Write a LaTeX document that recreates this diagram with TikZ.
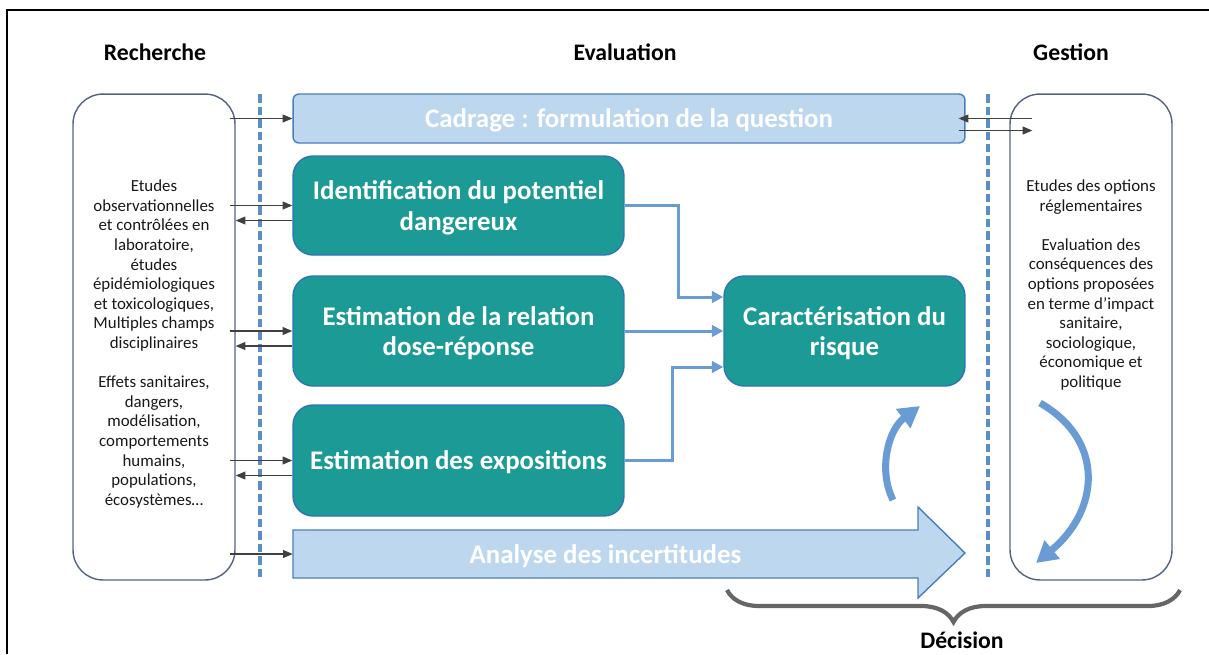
\documentclass[tikz,border=0pt]{standalone}
\usepackage{fontspec}
\setmainfont{Carlito}
\usetikzlibrary{arrows.meta,decorations.pathreplacing}

\definecolor{tealbox}{RGB}{28,154,150}
\definecolor{tealedge}{RGB}{46,117,182}
\definecolor{paleblue}{RGB}{189,215,238}
\definecolor{paleedge}{RGB}{74,126,187}
\definecolor{flowblue}{RGB}{105,155,212}
\definecolor{sepblue}{RGB}{91,142,201}
\definecolor{sideedge}{RGB}{84,98,130}

\tikzset{
    header/.style={font=\fontsize{13.5}{16}\selectfont\bfseries},
    sidebox/.style={draw=sideedge, line width=0.8pt, rounded corners=0.6cm, minimum width=3.24cm, minimum height=9.72cm},
    sidetext/.style={align=center, text=black!90, font=\fontsize{9.6}{11.15}\selectfont},
    sepline/.style={draw=sepblue, line width=2.2pt, dash pattern=on 0.17cm off 0.08cm},
    boxtext/.style={text=white, align=center, text depth=0pt, font=\fontsize{15.3}{17.5}\selectfont\bfseries},
    lightfill/.style={draw=paleedge, line width=0.8pt, fill=paleblue},
    cadrage/.style={lightfill, boxtext, rounded corners=0.12cm, minimum width=13.44cm, minimum height=0.98cm},
    stepbox/.style={draw=tealedge, line width=0.8pt, fill=tealbox, boxtext, rounded corners=0.4cm, minimum width=6.62cm},
    link/.style={draw=black!75, line width=0.6pt, -{Triangle[length=5.5pt,width=4.5pt]}},
    flow/.style={draw=flowblue, line width=1.7pt, -{Triangle[length=6.5pt,width=6.5pt]}},
    bendarrow/.style={draw=flowblue, line width=4pt, -{Triangle[length=12pt,width=13pt]}},
    decbrace/.style={decorate, decoration={brace, mirror, amplitude=0.64cm}, draw=gray!80!black, line width=2.4pt}
}

\begin{document}
\begin{tikzpicture}[x=0.02cm, y=-0.02cm]
    \useasboundingbox (0,0) rectangle (1209,654);

    % outer frame
    \draw[line width=1.6pt] (7,654) -- (7,10) -- (1209,10);

    % column titles
    \node[header] (rech) at (155,52) {Recherche};
    \node[header] (eval) at (625,52) {Evaluation};
    \node[header] (gest) at (1071,52) {Gestion};

    % side boxes
    \node[sidebox] (lbox) at (154,337) {};
    \node[sidebox] (rbox) at (1091,337) {};
    \node[sidetext] (ltext) at (154,344) {Etudes\\observationnelles\\et contrôlées en\\laboratoire,\\études\\épidémiologiques\\et toxicologiques,\\Multiples champs\\disciplinaires\\[11.15pt]Effets sanitaires,\\dangers,\\modélisation,\\comportements\\humains,\\populations,\\écosystèmes…};
    \node[sidetext] (rtext) at (1091,285) {Etudes des options\\réglementaires\\[11.15pt]Evaluation des\\conséquences des\\options proposées\\en terme d’impact\\sanitaire,\\sociologique,\\économique et\\politique};

    % dashed separators
    \draw[sepline] (260,94) -- (260,580);
    \draw[sepline] (988,94) -- (988,580);

    % evaluation steps
    \node[cadrage] (cad) at (629,118.5) {Cadrage : formulation de la question};
    \node[stepbox, minimum height=1.98cm] (idf) at (458.5,205.5) {Identification du potentiel\\dangereux};
    \node[stepbox, minimum height=2.2cm] (rel) at (458.5,331) {Estimation de la relation\\dose-réponse};
    \node[stepbox, minimum height=2.22cm] (expo) at (458.5,460.5) {Estimation des expositions};
    \node[stepbox, minimum width=4.82cm, minimum height=2.2cm] (car) at (844.5,331) {Caractérisation du\\risque};

    % uncertainty arrow
    \draw[lightfill] (293,530) -- (918,530) -- (918,507) -- (965,553) -- (918,598) -- (918,578) -- (293,578) -- cycle;
    \node[boxtext, minimum width=12.5cm, minimum height=0.96cm] (ana) at (605.5,554) {Analyse des incertitudes};

    % exchanges with research
    \draw[link, shorten <=-0.12cm] (lbox.east |- cad.west) -- (cad.west);
    \draw[link, shorten <=-0.12cm] (lbox.east |- idf.west) -- (idf.west);
    \draw[link] ([yshift=-0.3cm]idf.west) -- ([yshift=-0.3cm]idf.west -| lbox.east);
    \draw[link, shorten <=-0.12cm] (lbox.east |- rel.west) -- (rel.west);
    \draw[link] ([yshift=-0.3cm]rel.west) -- ([yshift=-0.3cm]rel.west -| lbox.east);
    \draw[link, shorten <=-0.12cm] (lbox.east |- expo.west) -- (expo.west);
    \draw[link] ([yshift=-0.3cm]expo.west) -- ([yshift=-0.3cm]expo.west -| lbox.east);
    \draw[link, shorten <=-0.12cm] (lbox.east |- ana.west) -- (ana.west);

    % exchanges with management
    \draw[link] ([xshift=0.46cm]rbox.west |- cad.east) -- ([xshift=-0.14cm]cad.east);
    \draw[link] ([xshift=-0.14cm, yshift=-0.24cm]cad.east) -- ([xshift=0.46cm, yshift=-0.24cm]rbox.west |- cad.east);

    % towards risk characterisation
    \draw[flow] (idf.east) -- ++(54,0) |- ([yshift=0.68cm]car.west);
    \draw[flow] (rel.east) -- (car.west);
    \draw[flow] (expo.east) -- ++(48,0) |- ([yshift=-0.72cm]car.west);

    % curved arrows
    \coordinate (c1s) at (893,500);
    \coordinate (c1e) at (920,406);
    \draw[bendarrow] (c1s) .. controls (878,470) and (888,430) .. (c1e);
    \coordinate (c2s) at (1040,403);
    \coordinate (c2e) at (1036,563);
    \draw[bendarrow] (c2s) .. controls (1105,440) and (1100,510) .. (c2e);

    % decision
    \coordinate (bl) at (727,590);
    \coordinate (br) at (1180,590);
    \draw[decbrace] (bl) -- (br);
    \node[header] (dec) at (962,640) {Décision};
\end{tikzpicture}
\end{document}
